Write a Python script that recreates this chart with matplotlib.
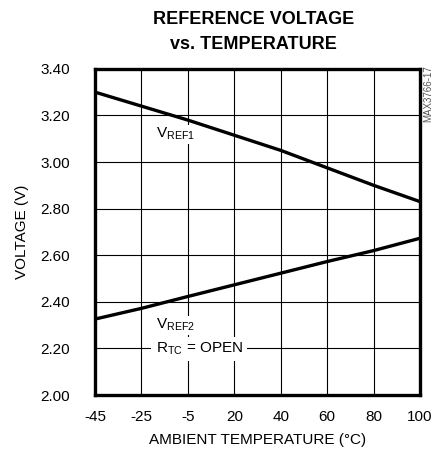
import matplotlib
matplotlib.use("Agg")
import matplotlib.pyplot as plt
import numpy as np

plt.rcParams['font.family'] = ['Liberation Sans', 'DejaVu Sans']
plt.rcParams['mathtext.fontset'] = 'custom'
plt.rcParams['mathtext.rm'] = 'Liberation Sans'
plt.rcParams['mathtext.it'] = 'Liberation Sans'

# tick labels on the x axis (evenly spaced in the original)
x_labels = ['-45', '-25', '-5', '20', '40', '60', '80', '100']
y_ticks = [2.00, 2.20, 2.40, 2.60, 2.80, 3.00, 3.20, 3.40]

# temperature points
temp = np.linspace(-45, 100, 8)
vref1 = [3.30, 3.24, 3.18, 3.115, 3.05, 2.975, 2.90, 2.83]
vref2 = [2.326, 2.372, 2.423, 2.473, 2.523, 2.573, 2.62, 2.673]

fig = plt.figure(figsize=(4.34, 4.53), dpi=100)
ax = fig.add_axes([0.219, 0.128, 0.749, 0.72])

ax.set_xlim(-45, 100)
ax.set_ylim(2.0, 3.4)
ax.set_xticks(temp)
ax.set_xticklabels(x_labels)
ax.set_yticks(y_ticks)
ax.set_yticklabels(['%.2f' % v for v in y_ticks])
ax.tick_params(length=0, labelsize=11)
ax.tick_params(axis='y', pad=18)
ax.tick_params(axis='x', pad=11)
ax.grid(True, color='black', linewidth=0.8)
ax.set_axisbelow(True)
for s in ax.spines.values():
    s.set_linewidth(2.4)

ax.plot(temp, vref1, color='black', linewidth=2.4)
ax.plot(temp, vref2, color='black', linewidth=2.4)

bb = dict(facecolor='white', edgecolor='none', pad=1)
ax.text(-18, 3.12, r'V$_{\mathrm{REF1}}$', fontsize=11, ha='left', va='center', bbox=bb)
ax.text(-18, 2.30, r'V$_{\mathrm{REF2}}$', fontsize=11, ha='left', va='center', bbox=bb)
ax.text(-18, 2.198, r'R$_{\mathrm{TC}}$ = OPEN', fontsize=11, ha='left', va='center',
        bbox=dict(facecolor='white', edgecolor='none', pad=3))

ax.set_xlabel('AMBIENT TEMPERATURE (°C)', fontsize=11, labelpad=6)
ax.set_ylabel('VOLTAGE (V)', fontsize=11, labelpad=8)

fig.text(0.585, 0.976, 'REFERENCE VOLTAGE\nvs. TEMPERATURE', ha='center', va='top',
         fontsize=13, fontweight='bold', linespacing=1.65)
fig.text(0.987, 0.855, 'MAX3766-17', rotation=90, ha='center', va='top',
         fontsize=7, color='#555555')

fig.savefig('out.png', dpi=100)
